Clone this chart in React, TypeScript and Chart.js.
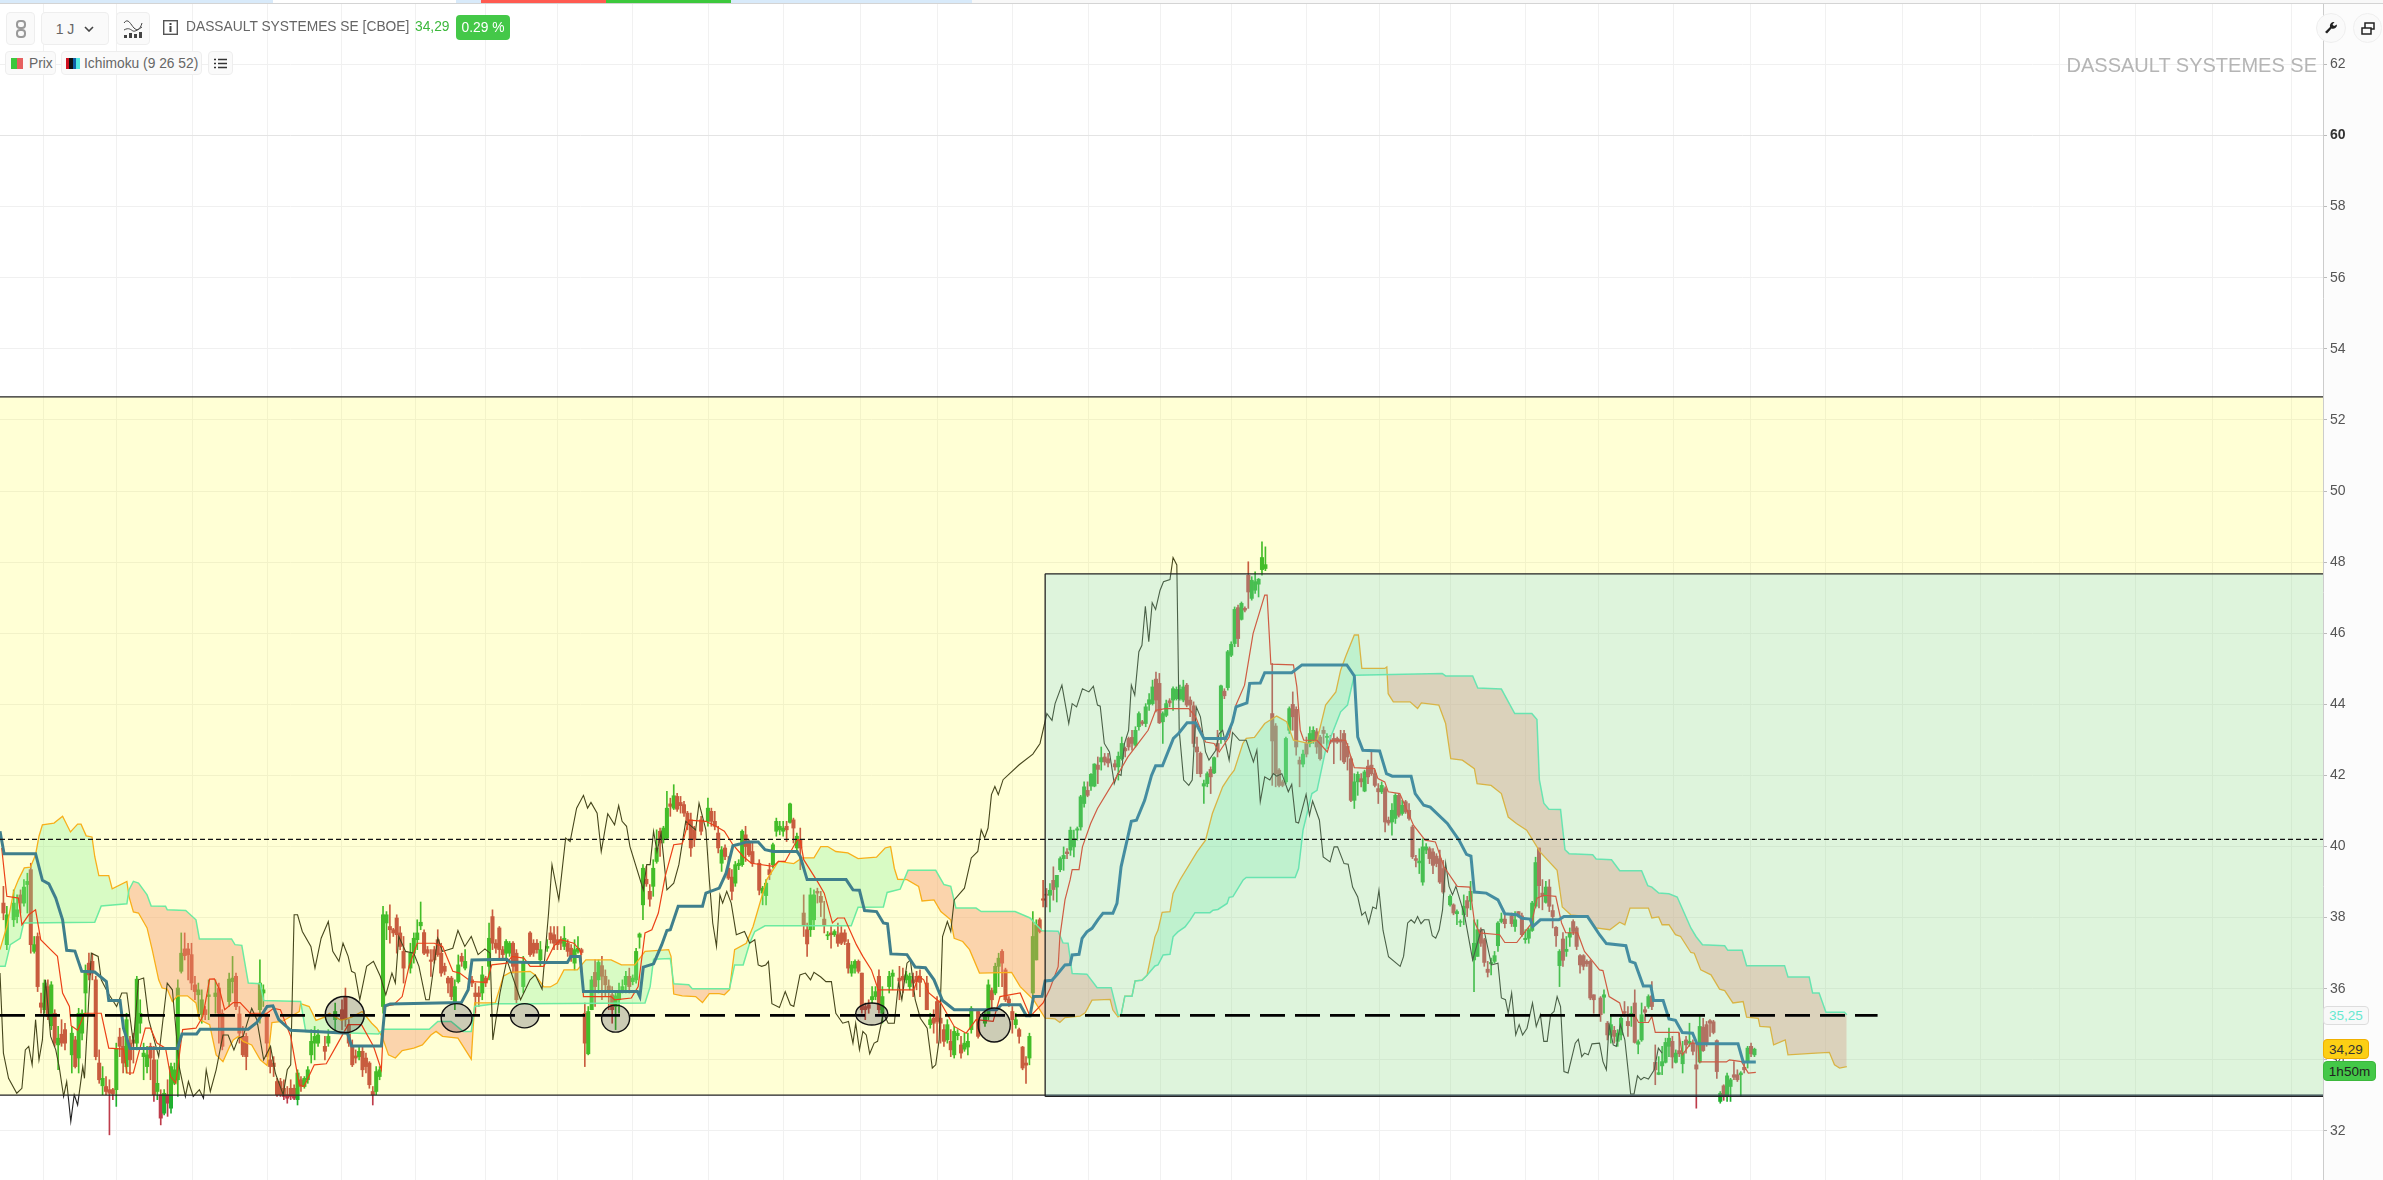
import React, { useEffect, useRef } from "react";
import { Chart, registerables } from "chart.js";
Chart.register(...registerables);

const priceTicks = [32,34,36,38,40,42,44,46,48,50,52,54,56,58,60,62];
const gridBars = [23.4,45,67.3,88.9,111.1,131.6,152.6,173.7,195.9,218.4,239.9,263.5,285,307,329.8,349.1,371.3,393,413.5,435,457.3,477.5,501.2,522.4,545.2,567.3,591,613.5,635.6,658.5];

// [bar, open, close, low, high]
const candlesEarly: number[][] = [
[1,38.41,38.13,37.94,38.88],[2,37.24,38.08,37.1,38.32],[4,37.94,38.41,37.75,38.78],[5,38.03,38.22,37.85,38.64],[6,38.64,38.41,38.13,38.78],[7,38.41,38.86,38.32,39.07],[8,38.93,39.02,38.13,39.25],[9,39.35,37.24,37,39.53],[10,37.05,37.24,37,37.47],[11,37.47,36.06,35.92,37.57],
[12,35.6,35.48,35.31,35.88],[13,35.41,36.16,35.31,36.25],[14,36.06,35.22,35.13,36.25],[15,34.96,36.11,34.85,36.2],[16,35.31,34.47,34.38,35.41],[17,34.42,34.61,33.72,34.94],[18,34.72,34.47,34.38,35.13],[19,34.85,34.47,34.28,35.03],[21,34.14,34.75,33.63,34.94],[22,34.56,33.81,33.77,34.66],
[23,34.05,35.31,33.63,35.45],[24,34.75,35.31,34.56,35.41],[25,35.88,36.44,35.31,36.67],[26,36.72,36.39,36.25,37],[27,36.77,36.44,36.25,37],[28,36.25,34.09,34,36.35],[29,33.91,33.44,33.34,34.28],[30,33.27,33.48,33.02,33.81],[31,33.25,33.11,33.02,33.53],[32,33.16,33.06,31.89,33.44],
[33,33.16,33.04,32.88,33.2],[34,33.16,34.3,32.69,34.47],[35,34.64,34.38,34.09,34.89],[36,34.38,33.91,33.63,34.66],[37,33.81,35.13,33.63,35.31],[38,34.47,34,33.58,34.66],[39,34.56,34.47,33.91,34.75],[40,34.47,36.27,34.28,36.35],[41,35.03,35.31,34.75,35.69],[42,34.09,34.19,33.44,34.47],
[43,33.81,34.14,33.63,34.38],[44,34.38,34.05,33.44,34.47],[45,34,33.02,32.83,34.38],[46,33.11,33.34,32.88,34],[47,33.02,32.36,32.17,33.16],[48,32.5,33.06,32.45,33.16],[49,33.02,32.78,32.41,33.44],[50,32.64,33.81,32.5,33.91],[51,33.34,33.72,33.3,33.91],[52,33.44,36.02,32.97,36.25],
[53,36.49,37,36.44,37.57],[54,37.12,36.93,36.81,37.57],[55,37.12,36.96,36.25,37.28],[56,36.96,36.16,35.97,37.28],[57,36.11,35.92,35.69,36.35],[58,35.83,35.97,35.31,36.16],[59,35.27,35.69,35.03,35.97],[60,35.41,35.27,35.13,35.5],[61,35.78,35.83,35.13,36.25],[63,35.78,35.88,35.31,36.25],
[64,36.02,35.31,34.47,36.16],[65,35.31,34.38,34.28,35.41],[67,35.64,36.27,35.5,36.44],[68,36.2,36.3,35.88,36.91],[69,36.35,35.5,35.41,36.44],[70,35.29,34.75,34.47,35.5],[71,34.66,34.14,34.09,34.94],[72,34.66,34.09,33.72,34.75],[76,35.41,36.16,35.03,36.81],[77,35.88,35.97,35.5,36.11],
[78,35.22,34.47,34.09,35.31],[79,34,33.81,33.63,34.38],[80,33.91,33.81,33.53,34.09],[81,33.39,33.02,32.97,33.48],[82,33.39,33.02,32.97,33.48],[83,33.2,32.97,32.88,33.44],[84,33.02,32.92,32.78,33.25],[85,33.2,32.97,32.88,33.44],[86,33.2,32.92,32.88,33.3],[87,32.88,33.63,32.73,33.72],
[88,33.44,33.25,33.11,33.53],[89,33.25,33.48,33.2,33.53],[90,33.44,33.72,33.34,33.81],[91,34.14,34.52,33.91,34.85],[92,34.47,34.66,34,34.94],[93,34.47,34.7,34.38,34.85],[95,34.38,34.24,34,34.66],[96,34.47,34.66,34.38,34.85],[98,35.13,35.36,34.75,35.6],[100,35.41,35.13,34.85,35.69],
[101,35.78,35.13,34.94,36.02],[102,34.99,34.47,34.38,35.13],[103,34.38,33.86,33.81,34.56],[104,34.11,34.05,33.91,34.28],[105,34.09,34.24,34,34.38],[106,34.24,33.72,33.53,34.38],[107,34.05,33.81,33.63,34.19],[108,33.91,33.3,33.2,33.95],[109,33.11,33.02,32.73,33.25],[110,33.11,33.67,33.02,33.81],
[111,33.53,33.72,33.44,33.81],[112,35.5,38.08,35.31,38.32],[113,37.85,38.08,37.38,38.17],[114,37.75,37.66,37.28,38.36],[115,37.66,37.57,37.47,37.7],[116,37.99,37.52,37,38.08],[117,37.57,37.19,37.1,37.75],[118,37.05,36.58,36.16,37.47],[120,36.58,37,36.44,37.28],[121,37,37.42,36.72,37.57],
[122,37.38,37.57,37.1,37.94],[123,37.77,37.87,37.66,38.44],[124,37.58,37,36.96,37.66],[125,37.1,37,36.91,37.19],[126,36.81,36.77,36.35,37.1],[127,37.1,36.81,36.72,37.19],[128,37.38,36.96,36.91,37.66],[129,37,36.44,36.35,37.28],[130,36.63,36.49,36.39,36.72],[131,36.3,36.16,35.88,36.35],
[132,36.3,35.78,35.69,36.35],[133,35.6,36.06,35.41,36.25],[134,36.2,36.67,36.16,36.95],[135,36.91,36.77,36.63,37],[136,36.58,36.77,36.53,37.1],[138,36.25,36.16,36.06,36.35],[139,35.88,35.78,35.31,36.16],[140,35.88,35.78,35.5,36.06],[141,35.88,36.39,35.69,36.63],[142,36.3,36.16,36.06,36.35],
[143,36.63,37.42,36.25,37.85],[144,38.03,37.28,37.1,38.22],[145,37.28,37.14,37,37.38],[146,37.71,37.1,36.81,37.75],[147,37.1,36.96,36.86,37.19],[148,37,37.33,36.81,37.38],[149,37,37.28,36.91,37.33],[150,37.28,36.63,36.44,37.33],[151,37,35.69,35.6,37.1],[153,36.06,36.72,35.88,36.91],
];
const candlesMiddle: number[][] = [
[155,37.57,36.96,36.91,37.61],[156,37.28,37,36.91,37.38],[157,37.28,37.1,37,37.38],[158,36.81,37.1,36.63,37.33],[160,37.14,37.19,37.05,37.38],[161,37.57,37.38,37.28,37.75],[162,37.52,37.28,37.1,37.75],[163,37.38,37.24,37.1,37.75],[164,37.38,37.28,37.1,37.47],[165,37.19,37.42,37.1,37.75],
[166,37.28,37.05,36.91,37.38],[167,37.14,36.91,36.77,37.24],[168,36.72,37.1,36.53,37.38],[169,37.05,37.14,37,37.47],[170,37.1,37.02,36.96,37.14],[171,35.31,34.47,33.81,35.6],[172,34.17,35.36,34.14,35.5],[173,35.41,36.25,35.41,36.35],[174,36.46,36.06,35.5,36.81],[175,36.25,36.74,35.88,36.81],
[176,36.65,36.35,35.69,36.91],[177,36.35,36.11,35.78,36.53],[178,36.08,35.92,35.41,36.25],[179,35.83,35.41,35.03,36.06],[180,35.5,35.8,34.85,35.88],[181,35.69,35.88,35.31,36.16],[182,35.97,36.06,35.88,36.25],[183,36.11,36.35,35.88,36.49],[184,36.35,36.06,35.88,36.58],[185,36.2,36.3,36.11,36.39],
[186,36.25,37.05,36.16,37.14],[187,37.45,37.54,37.14,37.57],[188,38.36,39.39,37.94,39.49],[189,39.08,38.95,38.88,39.44],[190,38.74,38.52,38.32,38.93],[191,38.88,39.39,38.6,39.63],[192,39.58,39.96,39.53,40.47],[193,40.43,40.1,39.72,40.52],[194,40.19,40.52,40.1,40.57],[195,40.24,41.08,40.19,41.55],
[196,41.2,41.13,40.85,41.36],[197,41.08,41.43,41.04,41.74],[198,41.41,41.05,40.99,41.5],[199,41.24,41.15,40.94,41.41],[200,41.18,40.94,40.85,41.27],[201,40.94,40.61,40.47,40.99],[202,40.75,39.96,39.72,40.94],[203,40.47,40.19,40,40.57],[205,40.75,40.43,40.33,40.85],[207,40.71,41.08,40.57,41.36],
[208,40.99,40.71,40.57,41.08],[209,40.71,40.57,40.47,40.99],[210,40.38,39.96,39.82,40.57],[211,39.53,39.91,39.3,40],[212,39.96,39.72,39.63,40.05],[213,39.39,39.11,39.07,39.72],[214,39.14,38.74,38.5,39.35],[215,38.97,39.49,38.88,39.58],[216,39.46,39.53,39.35,39.63],[217,39.49,40.43,39.44,40.47],
[218,40.33,40,39.58,40.57],[219,40.1,39.77,39.72,40.19],[220,39.86,39.53,39.44,40.1],[222,39.53,38.77,38.64,39.63],[223,38.69,38.83,38.36,38.88],[224,38.62,38.97,38.36,39.07],[225,39.35,39.21,39.07,39.53],[226,39.49,40.05,39.39,40.1],[227,40.43,40.71,40.29,40.8],[228,40.47,40.57,40.33,40.71],
[229,40.43,40.52,40.29,40.71],[230,40.57,40.47,40.14,40.71],[231,40.68,41.2,40.66,41.22],[232,40.75,40.52,40.1,40.8],[233,39.96,40.29,39.82,40.38],[234,40.19,39.96,39.35,40.52],[235,38.13,37.8,37.47,38.64],[236,37.66,37.26,36.91,37.85],[237,37.66,38.64,37.47,38.83],[238,37.94,38.64,37.66,38.78],
[239,38.74,38.69,38.41,38.83],[240,38.6,38.43,38.03,38.74],[241,37.96,37.8,37.57,38.46],[242,37.49,37.52,37.38,37.61],[243,37.57,37.52,37.14,37.75],[244,37.52,37.61,37.47,37.66],[245,37.52,37.28,37.19,37.85],[246,37.57,37.28,37.24,37.75],[247,37.57,37.33,37.24,37.66],[248,37.28,36.58,36.44,37.38],
[249,36.44,36.67,36.35,36.77],[250,36.58,36.77,36.44,36.81],[251,36.77,36.49,36.44,36.81],[252,36.44,35.41,35.31,36.44],[253,35.5,35.41,35.13,35.6],[254,35.55,35.45,35.31,35.69],[255,35.69,35.78,35.6,36.06],[256,35.78,35.92,35.69,36.06],[257,36.35,35.41,35.31,36.53],[258,35.31,35.78,35.03,36.06],
[260,36.06,36.35,35.88,36.49],[261,36.35,36.44,35.97,36.53],[263,36.3,36.22,35.69,36.63],[264,36.35,36.25,35.88,36.58],[265,36.25,36.39,36.16,36.49],[266,36.06,36.35,35.97,36.44],[267,36.25,36.16,35.78,36.44],[268,36.35,36.2,35.97,36.49],[269,36.35,36.18,35.78,36.53],[271,36.16,35.41,35.41,36.35],
[272,34.99,35.13,34.89,35.31],[273,35.17,35.03,34.75,35.41],[274,35.64,35.08,34.47,35.78],[275,35.17,35.03,34.47,35.69],[276,34.85,34.52,34.38,34.99],[277,34.56,34.99,34.47,35.13],[278,34.52,34.28,34.09,34.85],[279,34.14,34.8,34.05,34.94],[280,34.68,34.75,34.56,34.85],[281,34.42,34.19,34.05,34.66],
[282,34.3,34.47,34.24,34.75],[283,34.36,34.52,34.14,34.75],[284,34.85,35.45,34.75,35.5],[286,35.36,34.66,34.61,35.41],[288,35.03,35.27,34.94,35.36],[289,35.22,36.11,35.13,36.25],[290,35.95,35.69,35.41,36.02],[291,35.88,36.63,35.83,36.72],[292,36.63,36.86,36.06,37],[293,37.05,36.72,36.06,37.1],
[294,36.53,35.69,35.64,36.58],[295,35.71,35.6,35.5,35.78],[296,35.36,35.13,34.75,35.5],[297,34.99,35.13,34.89,35.31],[298,34.85,34.66,34.47,34.89],[299,34.36,33.77,33.72,34.38],[300,33.91,33.85,33.34,34.09],[301,34.05,34.66,33.86,34.75],[302,35.88,37.47,35.78,38.17],[303,36.81,37.8,36.81,37.94],[304,37.94,37.61,37.57,37.99],
];
const candlesPeak: number[][] = [
[305,38.53,38.49,38.3,39.05],[306,38.66,38.63,38.3,38.82],[307,38.63,38.77,38.16,38.96],[308,39.05,38.79,38.49,39.43],[309,38.86,39.19,38.44,39.19],[310,39.35,39.66,39.29,39.71],[311,39.66,39.75,39.33,39.99],[312,39.85,39.8,39.66,39.94],[313,39.9,40.46,39.75,40.55],[314,39.99,40.22,39.71,40.46],
[315,40.46,40.5,40.18,40.55],[316,40.55,41.4,40.46,41.44],[317,41.21,41.68,41.11,41.82],[318,41.58,41.44,41.4,41.82],[319,41.7,42.03,41.58,42.05],[320,41.7,42.32,41.68,42.33],[321,42.29,42.17,41.77,42.52],[322,42.38,42.5,42.15,42.8],[323,42.52,42.38,42.29,42.62],[324,42.47,42.35,42.24,42.62],
[326,42.33,42.24,42.15,42.43],[327,42.24,42.54,41.87,42.66],[328,42.47,42.9,42.43,43.08],[329,42.76,42.69,42.52,42.8],[330,43.04,42.8,42.71,43.08],[331,43.07,42.9,42.71,43.27],[332,42.85,43.27,42.8,43.37],[333,43.37,43.74,43.27,43.79],[334,43.51,43.46,43.41,43.55],[335,43.46,43.93,43.37,44.02],
[336,44,44.13,43.83,44.3],[337,44.02,44.49,43.98,44.68],[338,44.71,44.12,43.79,44.91],[339,44.59,43.48,43.46,44.87],[340,43.51,43.74,42.9,43.79],[341,43.69,44.02,43.65,44.12],[342,44.1,44.04,43.93,44.16],[343,44.12,44.44,43.83,44.49],[344,44.16,44.42,44.12,44.49],[345,44.16,44.42,44.12,44.54],
[346,44.12,44.49,44.07,44.68],[347,44.54,43.98,43.93,44.59],[348,44.12,43.98,43.65,44.21],[349,43.96,42.9,42.8,44.07],[350,42.8,42.66,42.05,43.08],[351,42.62,42.05,41.96,42.66],[352,41.7,41.77,41.21,41.87],[353,41.77,42.05,41.68,42.1],[354,42.17,41.96,41.49,42.24],[355,42.07,42.5,42.05,42.52],
[356,42.9,42.71,42.52,43.27],[357,43.27,44.52,42.9,44.54],[358,44.37,44.24,44.16,44.44],[359,44.47,45.48,44.4,45.52],[360,45.38,45.69,45.34,45.76],[361,45.71,46.67,45.62,46.74],[362,46.72,45.85,45.62,46.79],[363,46.39,46.84,46.37,46.88],[364,46.7,46.65,46.6,46.74],[365,47.63,47.16,46.7,48.01],
[366,46.98,47.49,46.93,47.59],[367,47.21,47.45,47.12,47.73],[368,47.38,47.52,47.02,47.54],[369,47.79,48.13,47.63,48.57],[370,47.82,47.93,47.76,48.43],[372,43.74,42.97,41.72,45.15],[373,43.39,42.05,41.68,43.46],[374,42.15,41.72,41.68,42.19],[375,41.82,41.72,41.68,41.87],[376,41.82,43.04,41.77,43.08],
[377,43.27,43.88,43.18,43.93],[378,44,43.65,43.27,44.35],[379,43.86,42.8,42.57,43.93],[380,42.43,42.32,41.68,42.52],[381,42.32,42.6,42.24,42.71],[382,42.9,42.6,42.52,43.08],[383,42.9,43.18,42.8,43.37],[384,42.99,43.27,42.9,43.37],[385,43.23,42.8,42.62,43.32],[386,43.08,42.47,42.43,43.13],
[387,43.27,43.18,42.9,43.37],[388,43.07,43.1,42.76,43.18],[389,42.99,42.94,42.9,43.13],[390,43.04,42.94,42.33,43.18],[391,43.04,42.94,42.9,43.08],[392,43.01,42.94,42.43,43.27],[393,43.18,42.38,42.33,43.27],[394,42.82,42.52,42.15,42.9],[395,42.47,41.3,41.26,42.52],[396,41.3,41.82,41.07,42.05],
[397,41.82,42.03,41.44,42.1],[398,41.91,41.82,41.68,42.05],[399,41.56,42.1,41.54,42.15],[400,42.26,41.96,41.77,42.43],[401,42.29,42.05,42,42.66],[402,42.05,41.72,41.68,42.15],[403,41.63,41.54,41.21,41.77],[404,41.54,41.72,41.49,41.82],[405,41.63,40.69,40.41,41.68],[406,40.74,40.66,40.6,40.83],
[407,40.69,41.02,40.32,41.21],[408,40.79,41.44,40.65,41.49],[409,41.44,40.88,40.83,41.49],[410,40.93,41.16,40.88,41.3],[411,41.26,40.97,40.93,41.3],[412,41.02,40.79,40.74,41.21],[413,40.55,39.71,39.66,40.6],[414,39.66,39.61,39.43,39.75],[415,39.54,39.59,39.24,39.94],[416,39,39.99,38.91,40.22],
[417,39.9,39.99,39.8,40.08],[418,39.94,39.66,39.52,39.99],[419,39.85,39.47,39.24,39.94],[420,39.73,39.52,39.43,39.8],[421,39.66,39,38.96,39.9],[422,39.38,38.72,38.68,39.61],
];
const candlesLate: number[][] = [
[424,38.36,38.6,38.32,38.64],[425,38.36,38.13,38.08,38.39],[426,38.11,38.17,37.8,38.22],[427,37.87,37.89,37.75,37.94],[428,38.08,38.32,37.8,38.64],[429,38.48,38.27,38.03,38.6],[430,38.46,38.74,38.22,39.02],[431,36.81,37.28,35.92,37.94],[432,36.91,37.66,36.91,37.94],[433,37.66,37.28,37.19,37.71],
[434,37.38,36.74,36.63,37.42],[435,36.55,36.46,36.33,36.77],[436,36.7,36.74,36.39,36.86],[437,36.77,36.93,36.72,37.05],[438,37.21,37.85,37.05,37.89],[439,37.89,37.96,37.85,38.13],[440,37.96,37.83,37.71,38.08],[442,38.05,37.83,37.75,38.13],[443,37.75,37.94,37.61,38.17],[444,38.17,38.05,38.02,38.17],
[445,38.05,37.52,37.47,38.13],[446,37.38,37.42,37.28,37.66],[447,37.42,37.66,37.28,37.71],[448,37.64,38.41,37.61,38.46],[449,38.32,39.55,38.27,39.7],[450,39.96,38.9,38.27,39.96],[451,38.69,38.6,38.22,39.07],[452,38.43,38.86,38.41,39.02],[453,38.86,38.32,38.17,39.07],[454,38.2,38.03,37.71,38.36],
[455,37.73,37.49,37.19,37.75],[456,36.65,37.05,36.06,37.1],[457,37.4,36.8,36.63,37.58],[458,37.05,37.11,36.91,37.47],[459,37.45,37.57,37.19,37.71],[460,37.89,37.61,37.52,37.94],[461,37.71,37.19,37.1,37.75],[462,36.93,36.67,36.44,36.96],[463,36.93,36.63,36.53,36.96],[464,36.77,36.7,36.63,36.81],
[465,36.77,35.74,35.69,36.81],[466,35.83,35.69,35.31,35.83],[468,35.74,35.27,35.08,35.78],[469,35.76,35.83,35.31,35.97],[470,35.03,34.7,34.56,35.08],[471,34.7,34.99,34.47,35.27],[472,34.83,34.66,34.47,34.94],[473,34.52,34.75,34.38,34.85],[474,34.7,35.17,34.56,35.27],[475,35.36,35.31,35.22,35.64],
[476,35.08,34.96,34.66,35.5],[477,35.22,35.31,34.94,35.5],[478,35.6,34.49,34.47,35.97],[479,34.44,34.51,34.17,34.56],[480,34.56,35.27,34.52,35.6],[481,35.41,35.34,35.08,35.5],[482,35.5,35.78,35.45,35.83],[483,35.8,35.5,35.41,36.2],[484,33.93,33.72,33.3,34.42],[485,33.59,33.64,33.58,34.09],
[486,33.83,33.95,33.58,34.38],[487,33.93,34.49,33.91,34.61],[488,34.38,34.61,34.09,34.89],[489,34.52,34.08,33.77,34.66],[490,33.93,34.19,33.91,34.28],[491,34.26,34.17,34.09,34.75],[492,33.89,34.19,33.63,34.52],[493,34.56,34.42,34.19,34.66],[494,34.47,34.52,34.38,35.03],[495,34.47,34.24,34.14,34.56],
[496,33.86,33.74,32.64,34.47],[497,33.94,34.94,33.91,35.22],[498,34.92,34.26,34.24,35.17],[499,34.99,34.47,34.38,35.08],[500,35.1,35.03,34.66,35.13],[501,35.07,34.77,34.73,35.11],[502,34.54,33.67,33.48,34.56],[503,32.83,33.06,32.78,33.11],[504,33.27,32.97,32.86,33.3],[505,32.97,33.55,32.83,33.63],
[506,33.25,33.44,32.83,33.48],[507,33.58,33.51,33.44,33.95],[508,33.58,33.44,33.39,33.72],[509,33.58,33.63,32.97,33.67],[510,33.79,33.72,33.63,33.91],[511,33.95,34.33,33.77,34.38],[512,34.38,34.17,34.09,34.47],[513,34.14,34.3,34.09,34.33],
];

// [bar, value]
const kijun: number[][] = [[0,40.43],[1.2,39.8],[10.4,39.8],[12.4,39.05],[14.3,38.95],[16.3,38.55],[18.3,37.94],[19.5,37.08],[21.9,37.06],[23.9,36.49],[27.7,36.47],[31.1,36.2],[31.8,35.67],[35.1,35.67],[36.1,34.89],[38,34.32],[51.9,34.32],[53.2,34.73],[57.5,34.73],[58.5,34.86],[72.6,34.86],[75.1,35.05],[78.1,35.5],[79.8,35.52],[81.5,35.13],[85,34.83],[101.6,34.75],[102.8,34.39],[111.5,34.39],[112.6,35.52],[114.1,35.57],[134.9,35.61],[136.9,35.97],[138,36.81],[148.2,36.83],[149.2,36.75],[155,36.74],[165.9,36.74],[166.9,36.91],[169.6,36.91],[170.6,35.92],[186.4,35.92],[187.1,35.78],[188.1,36.61],[191.1,36.7],[193.5,37.24],[195,37.64],[196,37.66],[198.3,38.32],[205.4,38.32],[206.4,38.69],[210.3,38.83],[212.3,39.25],[214.3,40.02],[216.3,40.07],[218.2,40.13],[221.7,40.13],[223.7,39.91],[226.1,39.86],[233.1,39.86],[234,39.72],[236,39.07],[247.4,39.07],[249.4,38.78],[251.3,38.77],[252.8,38.2],[256.3,38.17],[258.3,37.85],[259.5,37.83],[260.5,36.98],[265.2,36.96],[267.6,36.61],[270.6,36.59],[273.1,36.25],[275.6,35.67],[279,35.41],[291.4,35.41],[292.8,35.55],[298.3,35.55],[300.1,35.24],[301.2,35.24],[302.2,35.78],[304.7,35.79],[305.6,36.22],[307.6,36.24],[309.1,36.4],[311.4,36.67],[312.9,36.68],[313.5,36.95],[315.5,36.97],[316.4,37.42],[317.8,37.6],[319.3,37.7],[321.1,37.95],[322.5,38.12],[325.4,38.12],[326.6,38.4],[327.8,39.43],[330.8,40.71],[332.3,40.74],[334.7,41.3],[336.7,42],[337.9,42.27],[339.9,42.27],[343.1,43.04],[344.6,43.18],[347.1,43.48],[349.6,43.48],[352,43.04],[358.4,43.04],[360.4,43.51],[361.4,43.93],[364.6,44.04],[365.4,44.59],[368.5,44.6],[369.8,44.89],[377.7,44.89],[380.7,45.11],[393.8,45.11],[396,44.8],[397,43.08],[398.5,42.71],[403.4,42.69],[405.4,42.05],[407.1,41.98],[412.6,41.98],[413.8,41.49],[416.3,41.16],[418.2,41.11],[423.2,40.65],[426.6,40.18],[428.8,39.78],[430.1,39.73],[431.1,38.72],[434.6,38.69],[438,38.5],[440,38.11],[443.5,38.08],[445,37.98],[447.4,37.96],[448.2,37.75],[450.4,37.94],[455.8,37.94],[457.3,38.03],[464.2,38.03],[467.7,37.52],[469.7,37.27],[475.4,37.21],[476.6,36.77],[478.1,36.72],[480.5,36.08],[482.7,36.08],[483.5,35.67],[486.3,35.67],[488,35.15],[489.9,35.11],[491.9,34.77],[494.9,34.75],[496.2,34.45],[508.2,34.45],[509.7,33.94],[513.4,33.94]];

const tenkan: number[][] = [[0.5,39.96],[2,38.6],[5.4,38.55],[6.4,37.8],[8.4,38.08],[10.4,38.22],[11.9,37.38],[14.8,37.1],[16.8,36.91],[18.3,35.88],[20.3,35.5],[20.8,34.96],[22.7,34.83],[24.7,35.31],[29.6,35.31],[31.8,34.33],[36.1,34.3],[37.1,33.63],[39,33.63],[42.5,34.89],[44,34.89],[45.9,34.47],[48.4,34.33],[49.9,33.53],[51.4,33.34],[53.4,34.85],[57.3,34.89],[59.3,35.22],[61.3,36.27],[62.7,36.28],[64.2,35.97],[65.7,35.41],[68.2,35.61],[70.2,35.61],[73.1,35.31],[78.1,35.31],[80,35.45],[82,35.41],[85,34.66],[87.5,33.3],[88.9,33.25],[91.9,33.86],[95.4,33.89],[98.8,34.47],[101.8,34.99],[105.7,34.99],[109.2,34.38],[111.5,33.72],[112.4,35.5],[115.1,35.55],[117.6,35.78],[119.6,36.63],[122,37.28],[127,37.28],[129.4,37.19],[132.4,36.49],[134.4,36.44],[137.8,36.2],[142.3,36.18],[143.8,36.67],[148.2,36.72],[149.7,36.91],[153.2,36.86],[155,36.63],[159,36.63],[161.9,37.19],[163.9,37.38],[167.8,37.28],[169.8,37.05],[170.6,35.78],[178.7,35.78],[179.7,35.69],[184.6,35.74],[186.6,36.06],[188.6,37.57],[190.6,37.66],[192.5,38.13],[194.5,39.16],[197,40.05],[199.5,40.08],[201.4,40.74],[206.4,40.71],[209.3,40.57],[211.8,40.43],[214.3,40.05],[217.3,39.72],[219.7,39.53],[226.1,39.44],[227.6,39.58],[229.6,39.58],[233.1,40.19],[234,40.19],[235,39.63],[239,39.02],[241,38.69],[243.4,37.85],[244.9,37.99],[246.9,37.99],[250.4,37.24],[252.3,36.91],[254.8,36.53],[256.8,35.97],[267.2,35.97],[268.6,36.35],[270.1,36.25],[271.6,35.88],[275.1,35.6],[279,34.94],[282.5,34.75],[285.4,35.13],[290.4,35.08],[292.4,35.78],[298.3,35.88],[301.2,35.22],[305,35.6],[307,36],[309.4,36.62],[309.9,37.46],[311.4,38.5],[312.9,39.06],[313.5,39.35],[315.5,39.35],[316.5,39.99],[318.9,40.65],[320.9,41.07],[325.3,41.77],[329.8,42.52],[332.8,42.9],[335.7,43.27],[337.9,43.83],[340.7,43.88],[347.6,43.88],[349.6,43.65],[352.5,42.94],[355,42.9],[356.5,42.66],[359.4,43.08],[361.4,43.98],[363.9,44.54],[366.4,45.99],[369.8,47.07],[370.5,47.07],[371.6,45.13],[378.2,45.11],[379.2,44.49],[380.2,43.27],[381.2,42.99],[385.1,42.99],[388.1,42.66],[389.1,42.99],[393.5,42.99],[396,42.22],[401.9,42.19],[402.9,41.91],[404.9,41.82],[405.9,41.54],[409.3,41.49],[413.3,40.6],[416.7,40.18],[419.7,40.13],[422.2,39.43],[426.1,38.88],[429.8,38.86],[431.1,37.89],[432.6,37.57],[438.5,37.52],[440,37.3],[443.5,37.3],[447.9,37.85],[449.4,38.55],[451.4,38.63],[454.9,38.6],[456.6,37.85],[457.8,37.58],[461.3,37.57],[463.3,37.05],[465.7,36.77],[467.7,36.53],[468.7,36.51],[470.5,35.78],[473.6,35.6],[474.6,35.27],[478.1,35.24],[479.1,35.05],[482,35.05],[483,35.22],[484,34.77],[490.9,34.77],[491.9,34.14],[494.4,34.47],[496.4,34.47],[496.9,33.94],[504.8,33.94],[505.7,34],[509.2,33.95],[511.2,33.63],[513.4,33.65]];

const chikou: number[][] = [[0,36.44],[1,34.19],[2.5,33.48],[4.9,33.06],[6.4,33.2],[7.4,34.28],[8.4,34.38],[9.4,33.86],[10.4,35.13],[11.4,34],[12.4,34.56],[13.3,36.25],[14.8,34.66],[16.3,34.28],[17.3,33.81],[18.6,32.97],[19.5,33.39],[20.7,32.27],[21.7,33.02],[22.7,32.73],[24.2,33.81],[24.7,33.48],[26.7,37],[28.7,36.91],[29.6,36.25],[31.6,35.88],[34.1,35.5],[35.6,35.88],[37.1,35.88],[39,34.47],[40.5,36.25],[42,36.3],[43.5,35.13],[46.4,34.09],[48.9,36.16],[50.4,35.97],[52.4,33.81],[54.2,32.97],[55.1,33.39],[56.5,32.97],[58.3,33.16],[59.5,32.92],[60.3,33.72],[61.5,33.11],[63.2,33.72],[65.2,34.7],[66.7,34.7],[68.4,34.28],[69.7,34.61],[71.1,34.66],[73.6,35.45],[75.1,35.13],[77.1,34],[79.1,34.38],[80.5,33.63],[82.8,33.02],[84,33.72],[85,33.86],[86,38.08],[87,38.08],[88.4,37.61],[90.9,37.19],[92.1,36.58],[93.9,37.42],[96,37.89],[97.3,37.05],[99.1,36.77],[100.3,37.28],[101.8,36.91],[102.8,36.49],[103.8,36.44],[105.2,35.69],[107.2,36.63],[109.2,36.77],[111.2,36.35],[112.8,35.83],[114.6,36.44],[115.6,36.16],[116.6,37.47],[118.6,37.05],[121,37],[122.5,36.63],[124.5,35.69],[125.5,35.69],[128,37.42],[129.4,37.05],[132.4,37.14],[133.9,37.64],[135.9,37.19],[137.8,37.47],[139.8,36.96],[141.8,37.12],[143.3,37],[144.1,34.56],[146.2,35.88],[148.2,36.81],[152.2,35.69],[155,36.25],[156.5,36.39],[158.5,35.99],[160.4,38.13],[161.4,39.49],[163.4,38.5],[165.4,40.24],[166.7,40.14],[168.6,41.08],[170.6,41.44],[171.8,41.08],[172.8,41.24],[174.6,40.94],[175.8,39.86],[177.7,40.92],[179.7,40.61],[180.9,41.15],[181.9,40.71],[183.2,40.57],[184.2,40],[188.1,38.78],[189.1,39.49],[190.1,39.49],[191.1,40.43],[192.1,39.86],[193.3,40.38],[195,38.78],[197,38.97],[198.5,39.49],[200.5,40.71],[203.4,40.47],[204.4,41.22],[206.4,40.47],[207.4,39.07],[208.4,37.85],[209.5,37.19],[210.5,38.64],[211.3,38.41],[212.5,38.74],[213.8,38.41],[215.3,37.52],[217.7,37.61],[219.2,37.28],[220.7,37.38],[221.7,36.67],[222.7,36.63],[223.9,36.67],[224.7,36.77],[225.7,35.58],[227.9,35.47],[229.6,35.92],[231.1,35.55],[232.1,35.5],[233.9,36.39],[235.5,36.44],[237,36.25],[238,36.46],[240,36.33],[241.5,36.2],[243.1,36.2],[244.4,35.31],[246.4,35.03],[248.1,35.08],[249.4,34.47],[250.2,35.03],[251.3,34.28],[252.3,34.8],[253.3,34.7],[254.3,34.17],[255.6,34.47],[256.6,34.52],[258.3,35.31],[259.7,35.03],[261.5,35.03],[262.7,36.16],[263.7,35.69],[265.2,36.72],[266.2,36.81],[267.6,35.69],[269.1,35.17],[271.1,34.89],[272.6,33.77],[273.6,33.86],[274.6,34.56],[275.6,37.47],[277,37.89],[278,37.61],[279,38.5],[282,38.83],[284,39.68],[285.9,39.86],[286.9,40.47],[287.9,40.24],[288.9,40.52],[289.9,41.46],[290.9,41.69],[291.9,41.46],[293.3,41.88],[298,42.3],[302,42.6],[304.1,42.9],[306.1,43.74],[307.6,43.55],[308.5,44.02],[310.5,44.54],[312.5,43.46],[313.5,44.02],[314.8,43.93],[316.5,44.44],[318.4,44.35],[319.7,44.51],[320.9,43.98],[321.7,43.95],[322.9,42.9],[324.4,42.66],[325.8,41.77],[326.8,42.05],[327.8,42],[328.8,42.9],[330,43.27],[330.8,44.54],[331.8,44.26],[333,45.48],[333.9,45.66],[334.9,46.76],[335.9,45.76],[336.9,46.86],[337.9,46.67],[339.2,47.21],[340.2,47.45],[342.1,47.51],[343,48.13],[344.1,47.92],[344.8,43.27],[346.1,41.87],[347.6,41.72],[348.6,41.87],[349.8,43.93],[351,43.65],[352.5,42.66],[353.5,42.43],[355.5,42.71],[356.5,43.18],[357.5,43.27],[359.4,42.43],[360.4,43.21],[362.4,42.99],[364.4,42.99],[366.5,42.38],[367.5,42.71],[368.5,41.26],[369.8,41.96],[371.3,41.87],[372.3,42.05],[373.3,41.98],[374.8,42.05],[376.7,41.54],[377.7,41.75],[378.9,40.69],[379.7,40.66],[381.9,41.47],[382.9,40.88],[383.8,41.28],[385.8,40.74],[386.9,39.71],[388.9,39.57],[390.1,39.99],[391.1,39.99],[393,39.52],[394.2,39.5],[395.5,38.86],[397,38.58],[398.2,38.07],[399.2,38.16],[400.2,37.83],[401.4,38.3],[402.4,38.25],[403.2,38.77],[404.4,37.64],[406,36.9],[409.4,36.63],[410.4,36.91],[411.6,37.85],[412.6,37.94],[413.6,37.85],[414.5,38.03],[415.5,37.83],[416.5,37.94],[417.8,37.94],[418.8,37.49],[419.8,37.42],[420.8,37.66],[421.8,38.22],[422.7,39.53],[423.7,38.88],[424.7,38.64],[425.7,38.88],[428.2,38.08],[430.6,36.81],[433.1,37.66],[433.9,37.66],[436.1,36.67],[438,36.72],[439,35.74],[440.2,35.69],[441,35.31],[442,35.88],[443.2,34.7],[444.2,34.99],[445.2,34.7],[446.5,34.89],[448.1,35.6],[449.2,34.94],[450.4,35.27],[451.4,34.52],[452.4,34.52],[453.4,35.27],[454.4,35.36],[455.3,35.78],[456.3,35.5],[457.3,33.67],[458.5,33.63],[460.6,34.47],[461.5,34.58],[462.5,34.09],[463.3,34.19],[464.4,34.14],[465.5,34.45],[467.7,34.47],[468.7,33.95],[469.7,33.72],[470.5,34.99],[471.7,34.42],[472.6,34.38],[473.8,34.99],[475.1,34.56],[476.8,33.04],[477.8,33.04],[478.8,33.55],[479.8,33.44],[480.7,33.51],[482,33.46],[483.7,33.72],[484.9,34.33],[486,34.19]];

const senkouA: number[][] = [[0,37.1],[2,37.75],[4,38.74],[5.4,39.07],[7.1,39.4],[8.9,39.42],[10.4,39.77],[11.4,40.29],[12.4,40.61],[15.8,40.66],[18.3,40.85],[20.6,40.41],[22.7,40.63],[23.7,40.63],[25.2,40.3],[26.9,40.27],[27.7,39.72],[28.9,39.18],[31.8,39.18],[32.8,38.81],[37.1,39.02],[37.7,38.6],[39,38.16],[40.5,38.13],[43,37.71],[44.5,37.1],[46.4,36.25],[47.4,36.02],[48.9,35.99],[50.4,35.64],[51.9,35.8],[54.8,35.8],[57.3,35.6],[58.3,35.13],[61.3,34.99],[63.2,34.14],[65.2,33.95],[67.2,34.38],[68.2,34.56],[69.7,34.66],[71.1,34.52],[73.6,34.42],[76.1,34],[78.1,33.84],[79.5,35.05],[82.5,35.08],[85,35.22],[87.5,35.36],[87.9,35.58],[90.4,35.5],[92.4,35.11],[94.9,35.2],[96.3,35.31],[97.8,35.22],[99.8,35.11],[102.8,35.2],[105.9,35.36],[108.7,35.03],[110.2,34.89],[111.7,34.66],[113.6,34.14],[115.6,34.05],[117.6,34.26],[121,34.33],[123.5,34.42],[126,34.7],[127.5,34.8],[129.4,34.66],[133.9,34.61],[137.8,34.02],[138.8,35.6],[144.8,35.6],[147.2,36.35],[149.2,36.46],[155,36.49],[156.5,36.39],[159,36.05],[160.9,36.05],[162.9,36.16],[164.9,36.53],[168.8,36.53],[171.3,36.81],[178.7,36.81],[181.7,36.67],[185.6,36.67],[188.6,37.05],[195.5,37.1],[196.2,36.91],[197,35.85],[199.5,35.8],[203.4,35.78],[205.4,35.61],[207.4,35.86],[210.3,35.86],[211.8,35.83],[213.3,35.97],[214.8,37.1],[218.2,37.28],[220.2,37.75],[224.2,39.07],[227.6,39.58],[232.1,39.52],[234.5,39.68],[238,39.68],[240,40],[242,40],[244.4,39.86],[247.9,39.82],[250.9,39.66],[256.3,39.7],[258.8,39.96],[260.4,40],[261.5,39.39],[262.5,39.08],[265.2,39.07],[268.6,38.88],[269.6,38.47],[273.1,38.5],[275.1,38.17],[278,37.94],[279,37.42],[281.5,37.33],[283.5,37.1],[286.4,36.44],[295.8,36.46],[298.3,36.06],[302.2,35.69],[303.2,35.54],[305.6,35.17],[308.5,35.15],[309.9,35.05],[311.4,35.19],[315.8,35.23],[317.3,35.32],[319.3,35.68],[324.6,35.7],[325.4,35.4],[326.9,35.21],[327.8,35.26],[328.9,35.79],[331,35.79],[331.9,36.22],[333.9,36.24],[335.4,36.38],[335.7,36.53],[336.8,37.04],[337.7,37.46],[338.6,37.65],[339.8,38.15],[342.1,38.17],[343,38.68],[345,39.06],[350,39.85],[352.5,40.18],[354.5,40.93],[357.5,41.68],[359.4,41.96],[360.9,42.15],[363.4,42.9],[364.4,43.04],[366.8,43.07],[369.8,43.46],[373.3,43.67],[376.2,43.51],[378.2,42.99],[382.7,42.9],[385.1,42.99],[387.6,43.98],[390.6,44.35],[392,44.96],[393.5,45.35],[396,45.95],[397.2,45.95],[398.2,45.01],[404.9,45.01],[405.5,45.05],[405.9,44.3],[407.4,44.07],[412.3,44.07],[414.5,43.88],[415.6,44.04],[420.7,43.98],[422.7,43.46],[424.2,42.47],[427.6,42.43],[431.1,42.19],[431.9,41.77],[436,41.72],[439,41.49],[441,40.83],[443.4,40.65],[446.4,40.46],[450.3,39.85],[455.3,39.33],[456.8,38.3],[459.3,38.08],[464.2,38.03],[466.7,37.71],[470.7,37.66],[473.6,37.87],[475.1,37.8],[476.6,38.27],[482,38.27],[483,37.99],[485,38.02],[486,37.8],[488,37.8],[489.9,37.52],[491.4,37.47],[494.4,37.02],[495.4,37],[497.3,36.53],[500.3,36.39],[502.8,35.99],[504.3,35.95],[506.7,35.6],[509.7,35.64],[510.7,35.2],[514.1,35.17],[514.6,34.94],[517.6,34.92],[518.6,34.42],[522,34.56],[522.8,34.14],[530.9,34.19],[534.9,34.21],[536.4,33.86],[537.9,33.77],[540,33.81]];

const senkouB: number[][] = [[0,36.63],[1.5,36.63],[3,37.24],[5.9,37.42],[6.9,37.85],[27.7,37.87],[29.6,38.33],[37.1,38.39],[37.7,38.78],[39,39.02],[40.5,38.97],[43,38.64],[44.2,38.33],[48.4,38.32],[48.9,38.22],[54.3,38.2],[57.3,37.94],[58.3,37.4],[67.7,37.4],[68.7,37.24],[70.7,37.22],[72.6,36.16],[76.1,36.14],[77.1,35.67],[87.9,35.64],[89.4,34.8],[110.7,34.73],[112.2,34.86],[125.5,34.86],[128,35.08],[131.9,35.08],[135.4,34.8],[137.8,34.8],[138.8,35.5],[144.8,35.58],[154.2,35.58],[188.6,35.6],[190.1,36.06],[191.1,36.83],[196,36.85],[197,36.14],[201.4,36.11],[202.4,36],[213.3,36],[214.8,36.67],[217.3,36.67],[219.2,37.28],[220.7,37.61],[223.7,37.77],[248.9,37.77],[250.9,38.29],[258.3,38.3],[259.4,38.71],[263.2,38.8],[265.5,39.33],[273.6,39.33],[276,38.93],[278,38.88],[279.5,38.27],[285.4,38.27],[286.9,38.17],[296.8,38.17],[301.2,37.99],[302.6,37.84],[304.7,37.63],[309.4,37.62],[310.8,37.29],[312.3,37.28],[313.5,36.43],[317.8,36.41],[320.8,36.03],[324.9,36.03],[326.9,35.26],[327.8,35.26],[328.9,35.79],[331,35.79],[331.9,36.22],[333.9,36.24],[335.4,36.38],[337.7,36.64],[338.6,36.67],[340.1,36.95],[342.1,36.97],[343,37.46],[344.4,37.6],[346.5,37.74],[348,37.93],[349.4,38.14],[353.8,38.14],[354.7,38.21],[356.1,38.23],[358.8,38.4],[359.4,38.57],[360.5,38.59],[363.5,39.06],[364.4,39.13],[378.7,39.13],[379.7,39.38],[381,40.46],[383.6,41.49],[385.1,41.58],[387.6,42.71],[392,43.79],[394,43.98],[396,44.82],[421.7,44.87],[422.7,44.8],[430.6,44.8],[432.1,44.46],[439,44.43],[442.9,43.74],[447.9,43.74],[449.4,43.57],[450.1,41.88],[451.4,41.22],[452.9,41.05],[456.3,41.04],[457.6,39.91],[458.8,39.8],[465.7,39.77],[466.7,39.65],[471.2,39.63],[473.6,39.32],[480,39.32],[481.8,38.9],[483,38.86],[485,38.69],[488,38.67],[490.4,38.58],[494.4,37.71],[495.9,37.47],[497.8,37.24],[504.3,37.21],[505.2,37.08],[509.4,37.08],[510.7,36.65],[521.8,36.65],[522.8,36.33],[529,36.33],[530,35.88],[531.9,35.88],[533.9,35.34],[539.3,35.34],[540,35.27]];

const ellipseBars = [100.8,133.5,153.4,180,254.9,290.7];
const ellipsePrices = [35.27,35.18,35.24,35.16,35.29,34.98];
const ellipseBarRadii = [5.7,4.5,4.15,4.1,4.7,4.7];
const ellipsePriceRadii = [0.51,0.4,0.34,0.38,0.31,0.48];
const zoneStartBar = 305.6;
const lastAxisBar = 679.24;

const pairs = (rows: number[][]) => rows.map(([x, y]) => ({ x, y }));
const upCol = "#1fb030", dnCol = "rgb(190,60,75)";

const ellipsePlugin = {
  id: "ellipses",
  afterDatasetsDraw(c: any) {
    const { ctx, scales } = c;
    ellipseBars.forEach((b, i) => {
      const cx = scales.x.getPixelForValue(b), cy = scales.y.getPixelForValue(ellipsePrices[i]);
      const rx = scales.x.getPixelForValue(b + ellipseBarRadii[i]) - cx;
      const ry = cy - scales.y.getPixelForValue(ellipsePrices[i] + ellipsePriceRadii[i]);
      ctx.save(); ctx.beginPath(); ctx.ellipse(cx, cy, rx, ry, 0, 0, Math.PI * 2);
      ctx.fillStyle = "rgba(0,0,50,0.2)"; ctx.fill();
      ctx.strokeStyle = "#111"; ctx.lineWidth = 1.4; ctx.stroke(); ctx.restore();
    });
  },
};

const btn: any = { position: "absolute", background: "#fafafa", border: "1px solid #eee", borderRadius: 4, boxSizing: "border-box", color: "#666", display: "flex", alignItems: "center", justifyContent: "center", font: "13.8px 'Liberation Sans'" };
const badge: any = { position: "absolute", boxSizing: "border-box", borderRadius: 4, display: "flex", alignItems: "center", justifyContent: "center", font: "13.5px 'Liberation Sans'", left: 2323 };

export default function App() {
  const ref = useRef<HTMLCanvasElement>(null);
  useEffect(() => {
    const line = (data: any, color: string, width: number, order: number, extra: any = {}) => ({ type: "line", data, borderColor: color, borderWidth: width, pointRadius: 0, tension: 0, order, fill: false, ...extra });
    const candles = [...candlesEarly, ...candlesMiddle, ...candlesPeak, ...candlesLate];
    const colors = candles.map((r) => (r[2] >= r[1] ? upCol : dnCol));
    const chart = new Chart(ref.current!, {
      data: {
        datasets: [
          { type: "bar", grouped: false, data: candles.map((r) => ({ x: r[0], y: [r[3], r[4]] })), backgroundColor: colors, barThickness: 1, order: 40 },
          { type: "bar", grouped: false, data: candles.map((r) => ({ x: r[0], y: [r[1], r[2]] })), backgroundColor: colors, barThickness: 3.4, order: 39 },
          line(pairs(senkouA), "#f7a020", 1.3, 38, { fill: { target: 3, above: "rgba(100,240,190,0.3)", below: "rgba(245,120,130,0.38)" } }),
          line(pairs(senkouB), "#50e8c0", 1.5, 37),
          line(pairs(chikou), "#222", 1.1, 36),
          line(pairs(tenkan), "#e81c1c", 1.2, 35),
          line(pairs(kijun), "#1a66a8", 3, 34),
          line(pairs([[0, 52.65], [lastAxisBar, 52.65]]), "#222", 1.2, 20, { fill: { value: 33.01 }, backgroundColor: "rgba(255,255,0,0.165)" }),
          line(pairs([[0, 33.01], [lastAxisBar, 33.01]]), "#222", 1.2, 19),
          line(pairs([[zoneStartBar, 47.67], [lastAxisBar, 47.67]]), "#222", 1.3, 18, { fill: { value: 32.97 }, backgroundColor: "rgba(90,198,245,0.2)" }),
          line(pairs([[zoneStartBar, 32.97], [zoneStartBar, 47.67]]), "#222", 1.3, 17),
          line(pairs([[zoneStartBar, 32.97], [lastAxisBar, 32.97]]), "#222", 1.3, 16),
          line(pairs([[0, 40.2], [lastAxisBar, 40.2]]), "#111", 1.3, 5, { borderDash: [5, 3] }),
          line(pairs([[0, 35.25], [549, 35.25]]), "#000", 2.8, 4, { borderDash: [25, 10] }),
        ] as any,
      },
      options: {
        animation: false, responsive: false, events: [],
        layout: { padding: { top: 4 }, autoPadding: false },
        plugins: { legend: { display: false }, tooltip: { enabled: false } },
        scales: {
          x: {
            type: "linear", min: 0, max: lastAxisBar, offset: false,
            afterBuildTicks: (s: any) => { s.ticks = gridBars.map((value) => ({ value })); },
            afterFit: (s: any) => { s.height = 0; s.paddingLeft = 0; s.paddingRight = 0; s.paddingTop = 0; s.paddingBottom = 0; },
            ticks: { display: false }, grid: { color: "#f1f1f1", drawTicks: false }, border: { display: false },
          },
          y: {
            position: "right", min: 30.62, max: 63.7,
            afterBuildTicks: (s: any) => { s.ticks = priceTicks.map((value) => ({ value })); },
            afterFit: (s: any) => { s.width = 60; s.paddingTop = 0; s.paddingBottom = 0; s.paddingLeft = 0; s.paddingRight = 0; },
            grid: { color: (c: any) => (c.tick?.value === 60 ? "#e4e4e4" : "#f0f0f0"), tickColor: "#bbb", tickLength: 4 },
            border: { display: true, color: "#ccc" },
            ticks: {
              padding: 3, align: "center", crossAlign: "near", color: (c: any) => (c.tick?.value === 60 ? "#333" : "#555"),
              font: (c: any) => ({ family: "Liberation Sans", size: 14, weight: c.tick?.value === 60 ? "bold" : "normal" }),
              callback: (v: any) => String(v),
            },
          },
        },
      },
      plugins: [ellipsePlugin],
    } as any);
    return () => chart.destroy();
  }, []);
  const seg = (left: number, width: number, background: string) => <div style={{ position: "absolute", left, width, top: 0, height: 3, background }} />;
  return (
    <div style={{ position: "fixed", left: 0, top: 0, width: 2383, height: 1180, overflow: "hidden", background: "#fff" }}>
      <div style={{ position: "absolute", left: 2323, top: 0, width: 60, height: 1180, background: "#fcfcfc" }} />
      <canvas ref={ref} width={2383} height={1180} style={{ position: "absolute", left: 0, top: 0, width: 2383, height: 1180 }} />
      {seg(0, 273, "#d8eafa")}{seg(273, 183, "#fff")}{seg(456, 25, "#d8eafa")}{seg(481, 125, "#ff5a50")}{seg(606, 125, "#3cc83c")}{seg(731, 241, "#d8eafa")}{seg(972, 1411, "#f8f8f8")}
      <div style={{ position: "absolute", left: 0, top: 3, width: 2383, height: 1, background: "#d4d4d4" }} />
      <div style={{ ...btn, left: 6, top: 12, width: 29, height: 33 }}><svg width="10" height="18"><rect x="1" y="1" width="8" height="7" rx="3" fill="none" stroke="#999" strokeWidth="2" /><rect x="1" y="10" width="8" height="7" rx="3" fill="none" stroke="#999" strokeWidth="2" /></svg></div>
      <div style={{ ...btn, left: 41, top: 12, width: 68, height: 33, gap: 10, fontSize: 14 }}><span>1 J</span><svg width="10" height="6"><path d="M1 1l4 4 4-4" stroke="#444" strokeWidth="1.6" fill="none" /></svg></div>
      <div style={{ ...btn, left: 116, top: 12, width: 34, height: 33 }}><svg width="22" height="22"><path d="M2 5c4-6 7 2 10 5s6 2 8-5" stroke="#444" fill="none" /><path d="M2 12c5-3 7 0 9 1s6-2 9-4" stroke="#444" fill="none" /><rect x="2" y="17" width="3" height="3" fill="#444" /><rect x="7" y="15" width="3" height="5" fill="#444" /><rect x="12" y="16" width="3" height="4" fill="#444" /><rect x="17" y="14" width="3" height="6" fill="#444" /></svg></div>
      <svg style={{ position: "absolute", left: 163, top: 20 }} width="15" height="15"><rect x="0.7" y="0.7" width="13.6" height="13.6" fill="#fff" stroke="#555" strokeWidth="1.4" /><rect x="6.5" y="3" width="2" height="2" fill="#444" /><rect x="6.5" y="6" width="2" height="6" fill="#444" /></svg>
      <div style={{ position: "absolute", left: 186, top: 19, font: "13.8px 'Liberation Sans'", color: "#666", whiteSpace: "nowrap" }}>DASSAULT SYSTEMES SE [CBOE]</div>
      <div style={{ position: "absolute", left: 415, top: 19, font: "13.8px 'Liberation Sans'", color: "#3cb83c" }}>34,29</div>
      <div style={{ position: "absolute", left: 456, top: 15, width: 54, height: 25, borderRadius: 4, background: "#44c848", color: "#fff", font: "13.8px 'Liberation Sans'", display: "flex", alignItems: "center", justifyContent: "center" }}>0.29 %</div>
      <div style={{ ...btn, left: 5, top: 51, width: 51, height: 24, justifyContent: "flex-start", paddingLeft: 5, gap: 6 }}><span style={{ width: 12, height: 11, background: "linear-gradient(90deg,#3cc83c 50%,#e66060 50%)" }} /><span>Prix</span></div>
      <div style={{ ...btn, left: 61, top: 51, width: 141, height: 24, justifyContent: "flex-start", paddingLeft: 4, gap: 4 }}><span style={{ width: 14, height: 11, background: "linear-gradient(90deg,#d01020 25%,#111 25% 50%,#1060a8 50% 75%,#50e8e0 75%)" }} /><span>Ichimoku (9 26 52)</span></div>
      <div style={{ ...btn, left: 208, top: 51, width: 25, height: 24 }}><svg width="13" height="11"><path d="M0 1.5h2M4 1.5h9M0 5.5h2M4 5.5h9M0 9.5h2M4 9.5h9" stroke="#333" strokeWidth="1.6" /></svg></div>
      <div style={{ position: "absolute", right: 66, top: 54, font: "20px 'Liberation Sans'", color: "#b5b5b5", whiteSpace: "nowrap" }}>DASSAULT SYSTEMES SE</div>
      <div style={{ ...btn, left: 2316, top: 13, width: 30, height: 30, borderRadius: 15 }}><svg width="14" height="14"><path d="M13 3.500a4 4 0 0 1-5.500 4L3 12.500 1 11l5-5A4 4 0 0 1 10.500 1L8.500 3.500l1.500 1.500z" fill="#222" /></svg></div>
      <div style={{ ...btn, left: 2353, top: 13, width: 29, height: 30, borderRadius: 15 }}><svg width="14" height="13"><rect x="4" y="1" width="9" height="6" fill="none" stroke="#222" strokeWidth="1.5" /><rect x="1" y="6" width="9" height="6" fill="#fafafa" stroke="#222" strokeWidth="1.5" /></svg></div>
      <div style={{ ...badge, top: 1006, width: 46, height: 19, background: "#f8f8f8", border: "1px solid #ddd", color: "#66e8d0" }}>35,25</div>
      <div style={{ ...badge, top: 1039, width: 46, height: 20, background: "#fccf14", border: "1px solid #f0b000", color: "#333" }}>34,29</div>
      <div style={{ ...badge, top: 1061, width: 53, height: 20, background: "#44c848", border: "1px solid #3cb83c", color: "#222" }}>1h50m</div>
    </div>
  );
}
